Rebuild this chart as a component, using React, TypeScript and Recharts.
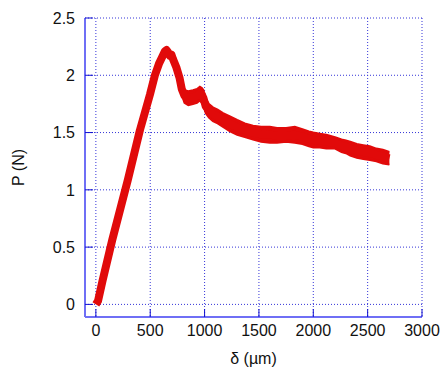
import React from "react";
import { ComposedChart, Line, Area, XAxis, YAxis, CartesianGrid } from "recharts";

const deltaUm = [0, 20, 60, 150, 295, 405, 497, 543, 580, 610, 635, 650, 665, 680, 695, 710, 740, 769, 790, 815, 850, 893, 930, 957, 975, 990, 1010, 1040, 1077, 1120, 1170, 1234, 1300, 1370, 1446, 1520, 1600, 1667, 1750, 1830, 1900, 1960, 2000, 2060, 2120, 2200, 2260, 2300, 2340, 2400, 2460, 2520, 2580, 2640, 2700];
const forceN = [0, 0.03, 0.2, 0.56, 1.09, 1.52, 1.83, 2.0, 2.1, 2.16, 2.21, 2.22, 2.2, 2.17, 2.18, 2.14, 2.07, 1.98, 1.88, 1.82, 1.8, 1.81, 1.82, 1.84, 1.83, 1.8, 1.73, 1.69, 1.66, 1.64, 1.61, 1.575, 1.545, 1.52, 1.5, 1.485, 1.48, 1.475, 1.475, 1.48, 1.465, 1.445, 1.435, 1.43, 1.42, 1.41, 1.385, 1.375, 1.36, 1.34, 1.33, 1.32, 1.305, 1.29, 1.275];
const noiseLow = [null, null, null, null, null, null, null, null, null, null, null, null, null, null, null, null, null, null, 1.83, 1.76, 1.74, 1.75, 1.76, 1.78, 1.76, 1.74, 1.67, 1.63, 1.6, 1.58, 1.55, 1.51, 1.48, 1.46, 1.44, 1.42, 1.41, 1.41, 1.42, 1.41, 1.4, 1.38, 1.37, 1.37, 1.36, 1.36, 1.33, 1.32, 1.3, 1.28, 1.27, 1.26, 1.25, 1.23, 1.22];
const noiseHigh = [null, null, null, null, null, null, null, null, null, null, null, null, null, null, null, null, null, null, 1.93, 1.87, 1.86, 1.87, 1.88, 1.9, 1.89, 1.87, 1.8, 1.75, 1.72, 1.7, 1.67, 1.64, 1.61, 1.58, 1.56, 1.55, 1.55, 1.54, 1.54, 1.55, 1.53, 1.51, 1.5, 1.49, 1.48, 1.46, 1.44, 1.43, 1.42, 1.4, 1.39, 1.38, 1.36, 1.35, 1.33];
const xTicks = [0, 500, 1000, 1500, 2000, 2500, 3000];
const yTicks = [0, 0.5, 1, 1.5, 2, 2.5];

const data = deltaUm.map((x, i) => ({
  x,
  y: forceN[i],
  band: noiseLow[i] == null || noiseHigh[i] == null ? null : [noiseLow[i], noiseHigh[i]],
}));

const FRAME = "#6f6ff5";
const TICK = "#1010d0";
const RED = "#e10a0a";
const font = { fontFamily: "'Liberation Sans', Arial, sans-serif", fontSize: 16, fill: "#111" };

export default function App() {
  return (
    <div style={{ width: 440, height: 375 }}>
      <style>{"html,body{margin:0;padding:0;overflow:hidden}"}</style>
      <ComposedChart width={440} height={375} data={data} margin={{ top: 18, right: 18, bottom: 0, left: 0 }} style={{ overflow: "visible" }}>
        <CartesianGrid stroke="#3535d8" strokeDasharray="1 2" horizontalValues={yTicks} verticalValues={xTicks} />
        <XAxis
          dataKey="x"
          type="number"
          domain={[-100, 3000]}
          ticks={xTicks}
          height={58}
          axisLine={{ stroke: FRAME, strokeWidth: 2 }}
          tickLine={{ stroke: TICK }}
          tickSize={-8}
          tickMargin={16}
          tick={font}
          interval={0}
          allowDataOverflow
          label={{ value: "δ (µm)", position: "insideBottom", offset: 11, style: { ...font } }}
        />
        <XAxis
          xAxisId="top"
          orientation="top"
          type="number"
          domain={[-100, 3000]}
          ticks={xTicks}
          height={0}
          axisLine={{ stroke: FRAME, strokeWidth: 2 }}
          tickLine={{ stroke: TICK }}
          tickSize={-8}
          tick={false}
          interval={0}
          allowDataOverflow
        />
        <YAxis
          type="number"
          domain={[-0.11, 2.5]}
          ticks={yTicks}
          width={85}
          axisLine={{ stroke: FRAME, strokeWidth: 2 }}
          tickLine={{ stroke: TICK }}
          tickSize={-8}
          tickMargin={18}
          tick={font}
          interval={0}
          allowDataOverflow
          label={{ value: "P (N)", angle: -90, position: "insideLeft", offset: 18.5, style: { ...font, textAnchor: "middle" } }}
        />
        <YAxis
          yAxisId="right"
          orientation="right"
          type="number"
          domain={[-0.11, 2.5]}
          ticks={yTicks}
          width={0}
          axisLine={{ stroke: FRAME, strokeWidth: 2 }}
          tickLine={{ stroke: TICK }}
          tickSize={-8}
          tick={false}
          interval={0}
          allowDataOverflow
        />
        <Area
          type="linear"
          dataKey="band"
          stroke={RED}
          strokeWidth={2}
          fill={RED}
          fillOpacity={1}
          dot={false}
          activeDot={false}
          isAnimationActive={false}
        />
        <Line
          type="linear"
          dataKey="y"
          stroke={RED}
          strokeWidth={8}
          strokeLinejoin="round"
          dot={false}
          activeDot={false}
          isAnimationActive={false}
        />
      </ComposedChart>
    </div>
  );
}
